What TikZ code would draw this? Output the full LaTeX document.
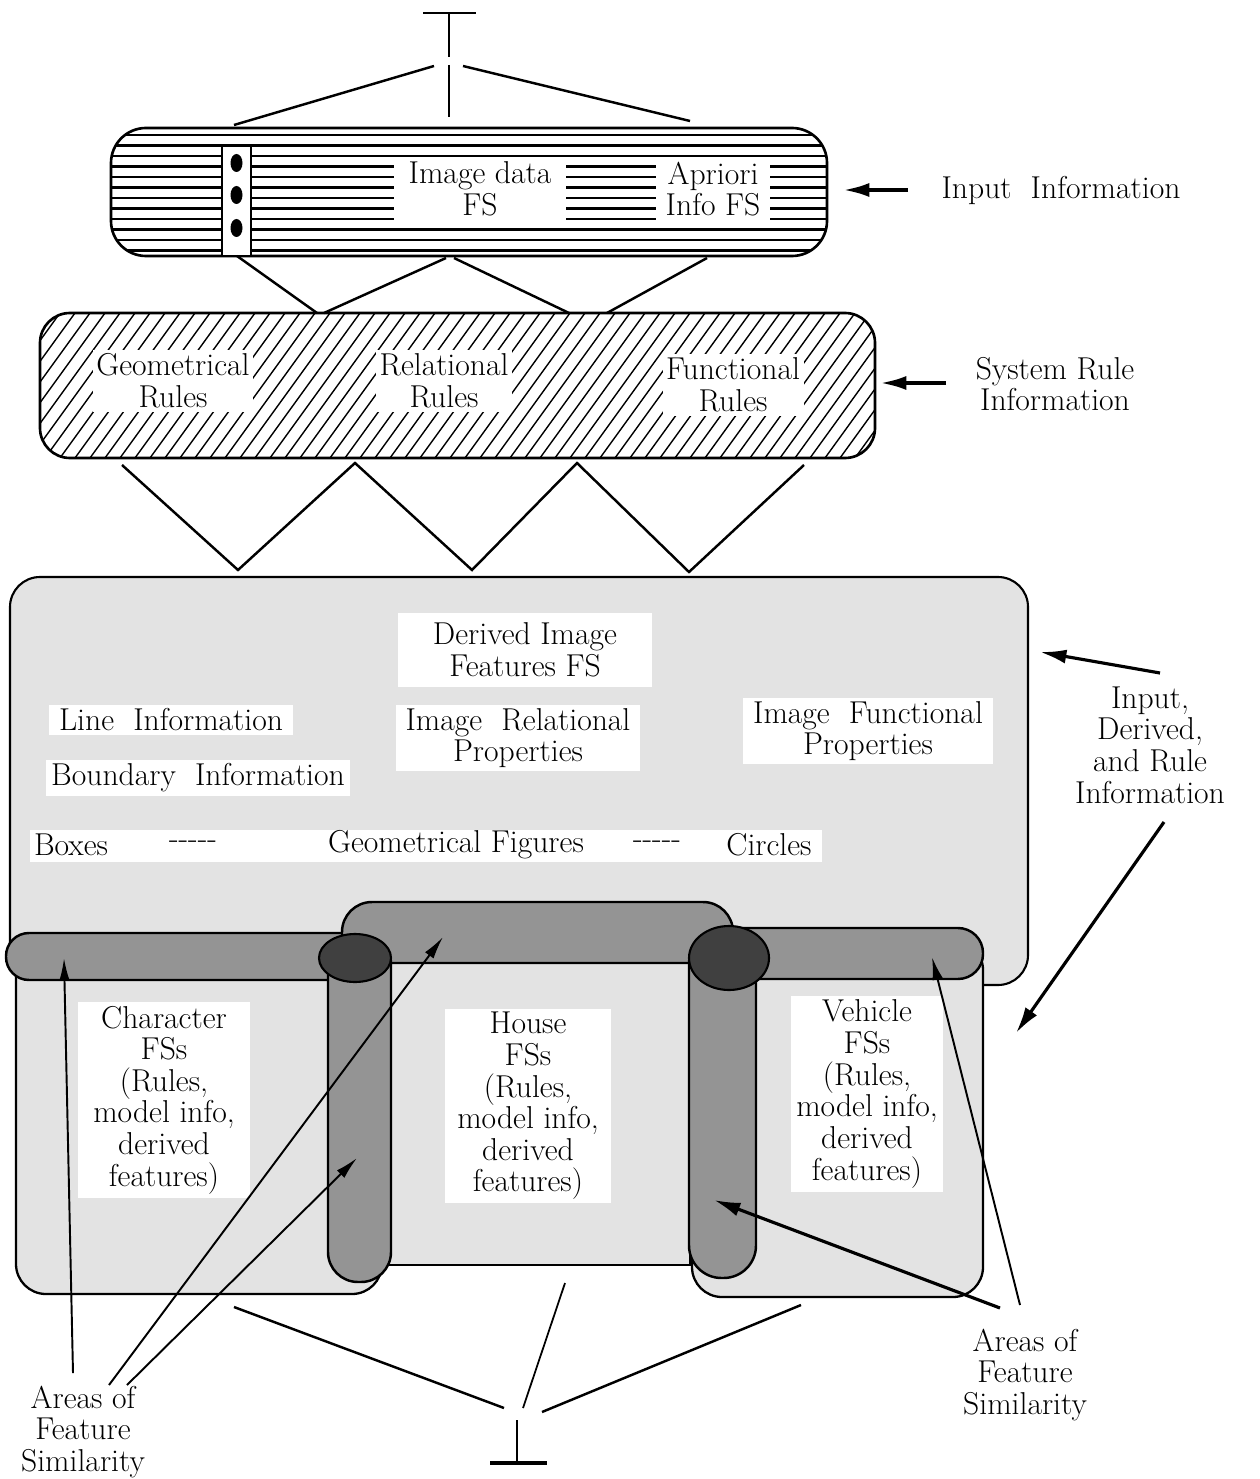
\documentclass[tikz,border=0pt]{standalone}
\usepackage{fontspec}
\usepackage{tikz}
\usetikzlibrary{arrows.meta}
\tikzset{
    txt/.style={align=center, font=\fontsize{18}{18}\selectfont, inner sep=2pt},
    lbl/.style={txt, fill=white},
    box/.style={draw, line width=1.5pt, rounded corners=6mm},
    light/.style={fill=black!11},
    bar/.style={draw, line width=1.4pt, fill=black!42},
    knob/.style={draw, line width=1.2pt, fill=black!75},
    link/.style={line width=1.4pt},
    pointer/.style={-{Latex[length=13pt,width=6pt]}, line width=1.1pt},
    heavy/.style={-{Latex[length=15pt,width=8pt]}, line width=2.2pt}
}

\begin{document}
\begin{tikzpicture}[x=0.2mm, y=-0.2mm]
\useasboundingbox (0,0) rectangle (1259,1479);

% stem on top
\coordinate (tt) at (449,13);
\coordinate (tm) at (449,117);
\draw[link] (423,13) -- (476,13);
\draw[link] (tt) -- (449,57);
\draw[link] (449,65) -- (tm);
\draw[link] (434,66) -- (234,125);
\draw[link] (463,66) -- (690,121);

% input information box
\begin{scope}
\clip[rounded corners=7mm] (111,128) rectangle (827,256);
\foreach \y in {135,145.5,...,256}
  \draw[line width=1.2pt] (100,\y) -- (840,\y);
\end{scope}
\draw[box, rounded corners=7mm] (111,128) rectangle (827,256);
\draw[line width=1.3pt, fill=white] (222,146) rectangle (251,256);
\foreach \y in {163,195,228}
  \fill (236.5,\y) ellipse [x radius=6, y radius=9];
\node[lbl, inner xsep=3mm] (imgdata) at (480,189) {Image data\\FS};
\node[lbl, inner xsep=2mm] (apriori) at (713,189) {Apriori\\Info FS};

\draw[link] (237,256) -- (317,313);
\draw[link] (446,258) -- (324,313);
\draw[link] (454,258) -- (569,313);
\draw[link] (707,258) -- (607,313);

% system rules box
\begin{scope}
\clip[rounded corners=6mm] (40,313) rectangle (875,458);
\foreach \x in {-120,-105,...,880}
  \draw[line width=0.8pt] (\x,458) -- (\x+105,313);
\end{scope}
\draw[box] (40,313) rectangle (875,458);
\node[lbl] (geo) at (173,381) {Geometrical\\Rules};
\node[lbl] (rel) at (444,381) {Relational\\Rules};
\node[lbl] (fun) at (733,385) {Functional\\Rules};

\draw[link] (122,465) -- (238,570) -- (355,463) -- (472,570) -- (577,463) -- (689,572) -- (804,465);

% derived features box
\draw[box, light, line width=1.2pt] (10,577) rectangle (1028,985);
\node[lbl, inner xsep=7mm, inner ysep=2mm] (derived) at (525,650) {Derived Image\\Features FS};
\node[lbl, inner xsep=2mm] (line) at (171,720) {Line~~Information};
\node[lbl, inner xsep=2mm] (relprop) at (518,738) {Image~~Relational\\Properties};
\node[lbl, inner xsep=2mm] (funprop) at (868,731) {Image~~Functional\\Properties};
\node[lbl, inner xsep=1mm] (bound) at (198,778) {Boundary~~Information};
\fill[white] (30,830) rectangle (822,862);
\node[txt] (boxes) at (71,845) {Boxes};
\node[txt] (dashL) at (193,845) {-{}-{}-{}-{}-};
\node[txt] (figs) at (456,845) {Geometrical Figures};
\node[txt] (dashR) at (657,845) {-{}-{}-{}-{}-};
\node[txt] (circles) at (769,845) {Circles};

% feature set boxes
\draw[box, light, line width=1.3pt] (16,940) rectangle (382,1294);
\draw[box, light, line width=1.3pt] (692,940) rectangle (983,1297);
\draw[light, line width=1.4pt] (389,950) rectangle (690,1265);

% shared areas
\draw[bar, rounded corners=4.6mm] (6,933) rectangle (392,980);
\draw[bar, rounded corners=5mm] (720,928) rectangle (983,979);
\draw[bar] (342,963) [rounded corners=6mm] -- (342,902) -- (733,902) [sharp corners] -- (733,963) -- cycle;
\draw[bar, rounded corners=6mm] (328,960) -- (328,1282) -- (391,1282) -- (391,960);
\draw[bar, rounded corners=6.5mm] (689,960) -- (689,1278) -- (756,1278) -- (756,960);
\draw[knob] (355,958) ellipse [x radius=36, y radius=24];
\draw[knob] (729,958) ellipse [x radius=40, y radius=32];

\node[lbl, inner xsep=3mm] (character) at (164,1100) {Character\\FSs\\(Rules,\\model info,\\derived\\features)};
\node[lbl, inner xsep=2.5mm] (house) at (528,1106) {House\\FSs\\(Rules,\\model info,\\derived\\features)};
\node[lbl, inner xsep=1mm] (vehicle) at (867,1094) {Vehicle\\FSs\\(Rules,\\model info,\\derived\\features)};

% side texts
\node[txt] (inInfo) at (1061,190) {Input~~Information};
\node[txt] (sysInfo) at (1055,384) {System Rule\\Information};
\node[txt] (allInfo) at (1150,745) {Input,\\Derived,\\and Rule\\Information};
\coordinate (inTip) at (843,190);
\coordinate (sysTip) at (880,383);
\coordinate (derTip) at (1040,652);
\coordinate (fsTip) at (1016,1033);
\draw[heavy] (908,190) -- (inTip);
\draw[heavy] (946,383) -- (sysTip);
\draw[heavy, line width=1.8pt] (1160,673) -- (derTip);
\draw[heavy, line width=1.8pt] (1164,822) -- (fsTip);

% areas of similarity
\node[txt] (areasL) at (83,1432) {Areas of\\Feature\\Similarity};
\node[txt] (areasR) at (1025,1375) {Areas of\\Feature\\Similarity};
\coordinate (barL) at (64,958);
\coordinate (barH) at (443,937);
\coordinate (cylL) at (357,1158);
\coordinate (cylR) at (714,1200);
\coordinate (barR) at (932,957);
\draw[pointer] (73,1373) -- (barL);
\draw[pointer] (109,1385) -- (barH);
\draw[pointer] (127,1385) -- (cylL);
\draw[heavy, line width=1.8pt] (1000,1308) -- (cylR);
\draw[pointer] (1020,1305) -- (barR);

% stem at the bottom
\coordinate (bt) at (517,1420);
\coordinate (bb) at (517,1463);
\draw[link] (234,1307) -- (504,1408);
\draw[line width=1pt] (565,1283) -- (523,1408);
\draw[link] (801,1305) -- (542,1412);
\draw[line width=1pt] (bt) -- (bb);
\draw[line width=2pt] (490,1463) -- (547,1463);

\end{tikzpicture}
\end{document}
